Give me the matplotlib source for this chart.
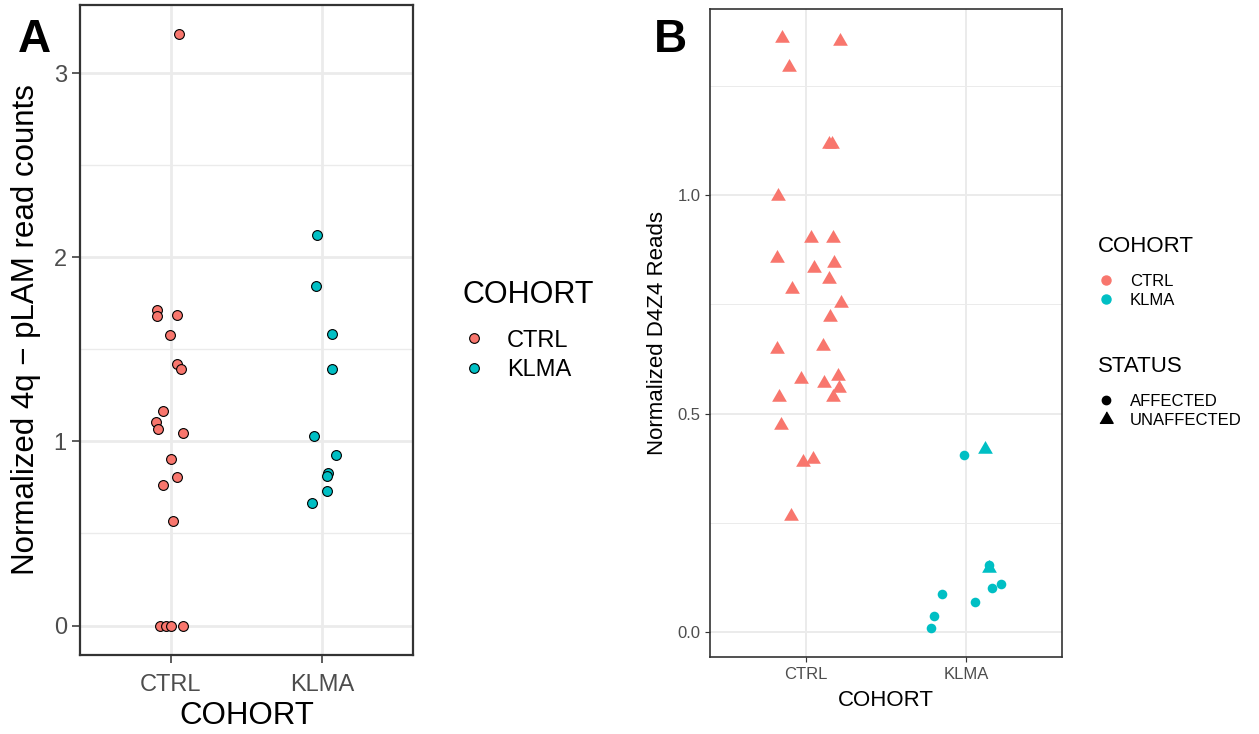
import matplotlib
matplotlib.use("Agg")
import matplotlib.pyplot as plt
from matplotlib.lines import Line2D
from matplotlib.ticker import MultipleLocator

plt.rcParams['font.family'] = ['Liberation Sans', 'DejaVu Sans']

RED = "#F8766D"
TEAL = "#00BFC4"
GRID = "#EBEBEB"
BORDER = "#333333"
TICKTXT = "#4D4D4D"

cohorts = ["CTRL", "KLMA"]

# panel A: 4q-pLAM read counts (jitter offset, value)
a_ctrl_jit = [0.057, -0.092, -0.092, 0.039, -0.004, 0.039, 0.066, -0.050, -0.098,
              -0.087, 0.079, 0.000, 0.041, -0.050, 0.017, -0.071, -0.033, 0.000, 0.079]
a_ctrl_val = [3.21, 1.714, 1.681, 1.689, 1.577, 1.423, 1.395, 1.164, 1.108,
              1.065, 1.047, 0.903, 0.804, 0.763, 0.568, 0.0, 0.0, 0.0, 0.0]
a_klma_jit = [-0.037, -0.044, 0.068, 0.068, -0.057, 0.094, 0.041, 0.033, 0.031, -0.068]
a_klma_val = [2.123, 1.846, 1.583, 1.395, 1.032, 0.928, 0.827, 0.812, 0.730, 0.664]

# panel B: D4Z4 reads
b_ctrl_jit = [-0.151, 0.214, -0.108, 0.141, 0.162, -0.172, 0.033, 0.170, -0.183,
              0.174, 0.052, 0.141, -0.087, 0.218, 0.151, -0.180, 0.106, -0.029,
              0.203, 0.110, 0.205, -0.170, 0.170, -0.156, -0.017, 0.046, -0.095]
b_ctrl_val = [1.359, 1.353, 1.293, 1.116, 1.116, 0.998, 0.901, 0.901, 0.856,
              0.845, 0.833, 0.809, 0.785, 0.754, 0.720, 0.647, 0.654, 0.579,
              0.586, 0.571, 0.559, 0.538, 0.538, 0.473, 0.389, 0.396, 0.265]
b_ctrl_status = ["UNAFFECTED"] * len(b_ctrl_val)
b_klma_jit = [-0.010, 0.116, 0.145, 0.143, 0.220, 0.164, -0.149, 0.054, -0.200, -0.220]
b_klma_val = [0.405, 0.419, 0.154, 0.147, 0.109, 0.102, 0.087, 0.070, 0.037, 0.009]
b_klma_status = ["AFFECTED", "UNAFFECTED", "AFFECTED", "UNAFFECTED", "AFFECTED",
                 "AFFECTED", "AFFECTED", "AFFECTED", "AFFECTED", "AFFECTED"]

TRI = [(-0.5, -0.289), (0.5, -0.289), (0.0, 0.577)]
shape_map = {"AFFECTED": "o", "UNAFFECTED": TRI}
size_map = {"AFFECTED": 48, "UNAFFECTED": 150}


def style_axes(ax, lw_border, lw_major, fs_tick, tick_len):
    ax.set_facecolor("white")
    ax.grid(True, which="major", color=GRID, lw=lw_major, zorder=0)
    ax.grid(True, which="minor", axis="y", color=GRID, lw=lw_major * 0.5, zorder=0)
    ax.set_axisbelow(True)
    for s in ax.spines.values():
        s.set_color(BORDER)
        s.set_linewidth(lw_border)
    ax.tick_params(which="major", color=BORDER, length=tick_len, width=lw_border * 0.7,
                   labelsize=fs_tick, labelcolor=TICKTXT)
    ax.tick_params(which="minor", length=0)
    ax.set_xlim(0.4, 2.6)
    ax.set_xticks([1, 2])
    ax.set_xticklabels(cohorts)


fig = plt.figure(figsize=(12.59, 7.34), dpi=100)

# ---- panel A
axA = fig.add_axes([80 / 1259, 1 - 655 / 734, 333 / 1259, 650 / 734])
style_axes(axA, 1.6, 2.0, 17, 6)
axA.set_ylim(-0.16, 3.37)
axA.yaxis.set_major_locator(MultipleLocator(1))
axA.yaxis.set_minor_locator(MultipleLocator(0.5))
axA.scatter([1 + j for j in a_ctrl_jit], a_ctrl_val, s=50, c=RED,
            edgecolors="black", linewidths=0.8, zorder=3)
axA.scatter([2 + j for j in a_klma_jit], a_klma_val, s=50, c=TEAL,
            edgecolors="black", linewidths=0.8, zorder=3)
axA.tick_params(axis="x", pad=8)
axA.set_xlabel("COHORT", fontsize=22.5, labelpad=3)
axA.set_ylabel("Normalized 4q \u2212 pLAM read counts", fontsize=22.5)
axA.yaxis.set_label_coords(-0.118, 0.5)

# ---- panel B
axB = fig.add_axes([710 / 1259, 1 - 657 / 734, 352 / 1259, 648 / 734])
style_axes(axB, 1.2, 1.4, 12, 3.5)
axB.set_ylim(-0.057, 1.426)
axB.yaxis.set_major_locator(MultipleLocator(0.5))
axB.yaxis.set_minor_locator(MultipleLocator(0.25))
axB.yaxis.set_major_formatter(matplotlib.ticker.FormatStrFormatter("%.1f"))
for xs, ys, sts, col, base in [(b_ctrl_jit, b_ctrl_val, b_ctrl_status, RED, 1),
                               (b_klma_jit, b_klma_val, b_klma_status, TEAL, 2)]:
    for st in ["AFFECTED", "UNAFFECTED"]:
        px = [base + x for x, s in zip(xs, sts) if s == st]
        py = [y for y, s in zip(ys, sts) if s == st]
        if px:
            axB.scatter(px, py, s=size_map[st], c=col, marker=shape_map[st],
                        linewidths=0, zorder=3)
axB.set_xlabel("COHORT", fontsize=16, labelpad=6)
axB.set_ylabel("Normalized D4Z4 Reads", fontsize=16)
axB.yaxis.set_label_coords(-0.118, 0.5)

# ---- legends
hA = [Line2D([], [], ls="none", marker="o", ms=7, mfc=c, mec="black", mew=0.8)
      for c in (RED, TEAL)]
legA = fig.legend(hA, cohorts, title="COHORT", loc="upper left",
                  bbox_to_anchor=(441 / 1259, 1 - 259 / 734), frameon=False,
                  fontsize=17, title_fontsize=22, alignment="left",
                  handlelength=1.0, handletextpad=0.9, labelspacing=0.3)
legA._legend_box.sep = 14

hB1 = [Line2D([], [], ls="none", marker="o", ms=6.5, mfc=c, mec=c) for c in (RED, TEAL)]
legB1 = fig.legend(hB1, cohorts, title="COHORT", loc="upper left",
                   bbox_to_anchor=(1083 / 1259, 1 - 221 / 734), frameon=False,
                   fontsize=12, title_fontsize=16, alignment="left",
                   handlelength=1.0, handletextpad=0.9, labelspacing=0.25)
legB1._legend_box.sep = 12
hB2 = [Line2D([], [], ls="none", marker="o", ms=6, mfc="black", mec="black"),
       Line2D([], [], ls="none", marker=TRI, ms=11, mfc="black", mec="black")]
legB2 = fig.legend(hB2, ["AFFECTED", "UNAFFECTED"], title="STATUS", loc="upper left",
                   bbox_to_anchor=(1083 / 1259, 1 - 341 / 734), frameon=False,
                   fontsize=12, title_fontsize=16, alignment="left",
                   handlelength=1.0, handletextpad=0.9, labelspacing=0.25)
legB2._legend_box.sep = 12

fig.text(18 / 1259, 1 - 52 / 734, "A", fontsize=33, fontweight="bold", va="baseline")
fig.text(654 / 1259, 1 - 52 / 734, "B", fontsize=33, fontweight="bold", va="baseline")

fig.savefig("out.png", dpi=100, facecolor="white")
